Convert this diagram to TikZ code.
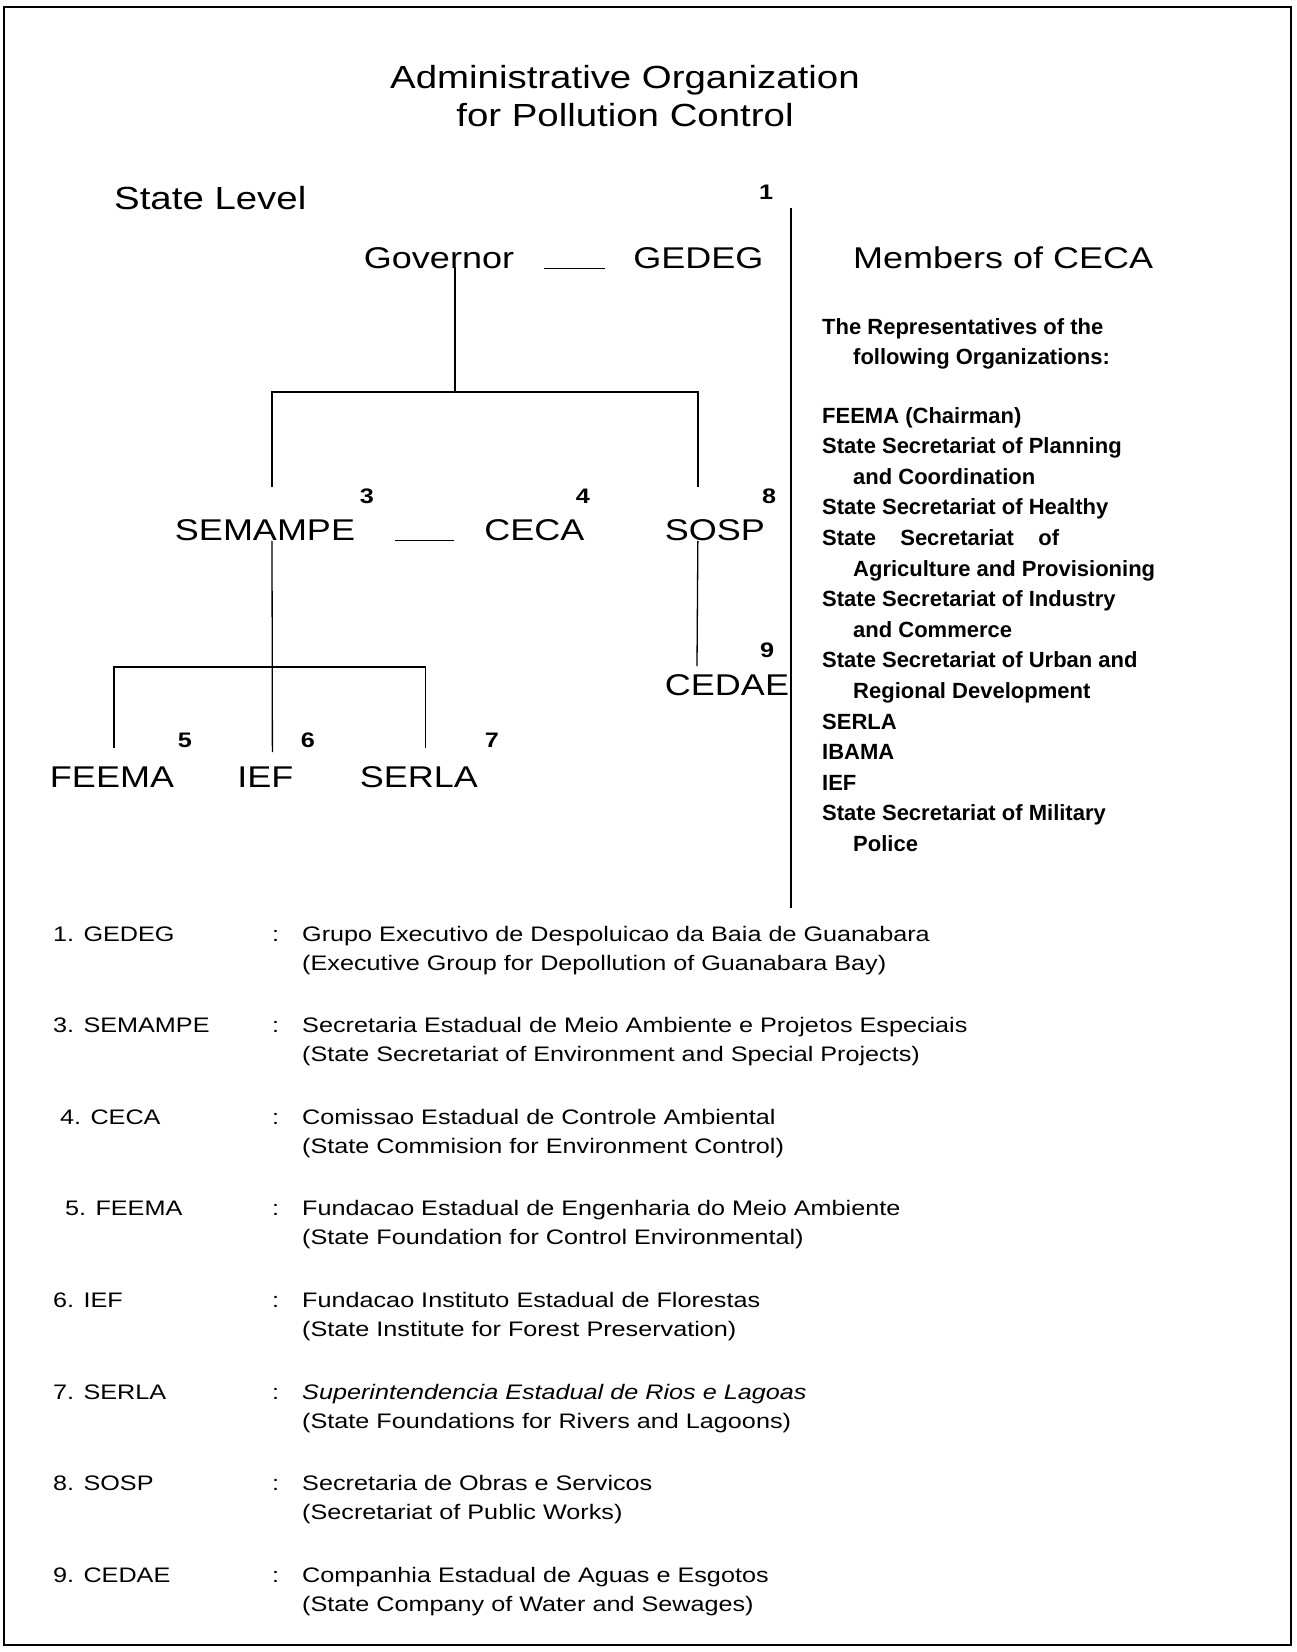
\documentclass[tikz,border=0pt]{standalone}
\usepackage{fontspec}
\setmainfont{Liberation Sans}
\newfontfamily\widesans[FakeStretch=1.2]{Liberation Sans}
\usetikzlibrary{positioning}

\begin{document}
\begin{tikzpicture}[x=1pt, y=-1pt, every node/.style={inner sep=0pt},
  heading/.style={font=\widesans\fontsize{32}{38}\selectfont},
  org/.style={font=\widesans\fontsize{30}{36}\selectfont, text height=21.5pt, text depth=0pt},
  num/.style={font=\widesans\bfseries\fontsize{21}{24}\selectfont, text height=15pt, text depth=0pt},
  legend/.style={font=\widesans\fontsize{21}{28}\selectfont, anchor=base west},
  member/.style={font=\bfseries\fontsize{22}{30.6}\selectfont, align=left, anchor=north west},
  link/.style={line width=1.3pt}]

% Page and frame
\useasboundingbox (0,0) rectangle (1296,1652);
\draw[line width=2.5pt] (4,7) rectangle (1291,1645);

% Title
\node[heading, anchor=base] (title1) at (625,88.5) {Administrative Organization};
\node[heading, anchor=base] (title2) at (625,126.5) {for Pollution Control};
\node[heading, anchor=base west] (level) at (114,209) {State Level};

% Main nodes
\node[org] (gov) at (439,258) {Governor};
\node[org] (gedeg) [right=119pt of gov] {GEDEG};
\node[org] (semampe) at (265,530) {SEMAMPE};
\node[org] (ceca) [right=129pt of semampe] {CECA};
\node[org] (sosp) [right=80pt of ceca] {SOSP};
\node[org] (cedae) at (727,685) {CEDAE};
\node[org] (feema) at (112,777) {FEEMA};
\node[org] (ief) [right=63pt of feema] {IEF};
\node[org] (serla) [right=66pt of ief] {SERLA};

% Footnote numbers
\node[num] (n1) at (766,192) {1};
\node[num] (n3) at (367,496) {3};
\node[num] (n4) at (583,496) {4};
\node[num] (n8) at (769,496) {8};
\node[num] (n9) at (767,650) {9};
\node[num] (n5) at (185,740) {5};
\node[num] (n6) at (308,740) {6};
\node[num] (n7) at (492,740) {7};

% Connecting lines
\coordinate (govdrop) at (455,392);
\coordinate (semdrop) at (272,667);
\draw[link, shorten <=30pt, shorten >=28pt] (gov.base east) -- (gedeg.base west);
\draw[link, shorten <=40pt, shorten >=30pt] (semampe.base east) -- (ceca.base west);
\draw[link] ([xshift=16pt,yshift=2pt]gov.south) -- (govdrop);
\draw[link] ([xshift=7pt,yshift=32pt]semampe.north) |- (govdrop) -| ([xshift=-17pt,yshift=32pt]sosp.north);
\draw[link] ([xshift=7pt]semampe.south) -- ([xshift=7pt,yshift=14pt]ief.north);
\draw[link] ([xshift=2pt,yshift=18pt]feema.north) |- (semdrop) -| ([xshift=7pt,yshift=18pt]serla.north);
\draw[link] ([xshift=-17pt]sosp.south) -- ([xshift=-30pt,yshift=8pt]cedae.north);

% Separator
\coordinate (septop) at (791,208);
\coordinate (sepbot) at (791,908);
\draw[link] (septop) -- (sepbot);

% Members of CECA
\node[org, anchor=west] (members) at (853,258) {Members of CECA};
\node[member] (reps) at (822,318) {The Representatives of the\\\hspace*{31pt}following Organizations:};
\node[member] (cecalist) at (822,407) {FEEMA (Chairman)\\
State Secretariat of Planning\\
\hspace*{31pt}and Coordination\\
State Secretariat of Healthy\\
\makebox[237pt][s]{State Secretariat of}\\
\hspace*{31pt}Agriculture and Provisioning\\
State Secretariat of Industry\\
\hspace*{31pt}and Commerce\\
State Secretariat of Urban and\\
\hspace*{31pt}Regional Development\\
SERLA\\
IBAMA\\
IEF\\
State Secretariat of Military\\
\hspace*{31pt}Police};

% Legend
\node[legend] (key1) at (53,941) {1. GEDEG};
\node[legend] (col1) at (272,941) {:};
\node[legend] (def1) at (302,941) {Grupo Executivo de Despoluicao da Baia de Guanabara};
\node[legend] (tr1) at (302,970) {(Executive Group for Depollution of Guanabara Bay)};

\node[legend] (key3) at (53,1032.6) {3. SEMAMPE};
\node[legend] (col3) at (272,1032.6) {:};
\node[legend] (def3) at (302,1032.6) {Secretaria Estadual de Meio Ambiente e Projetos Especiais};
\node[legend] (tr3) at (302,1061.6) {(State Secretariat of Environment and Special Projects)};

\node[legend] (key4) at (60,1124.2) {4. CECA};
\node[legend] (col4) at (272,1124.2) {:};
\node[legend] (def4) at (302,1124.2) {Comissao Estadual de Controle Ambiental};
\node[legend] (tr4) at (302,1153.2) {(State Commision for Environment Control)};

\node[legend] (key5) at (65,1215.8) {5. FEEMA};
\node[legend] (col5) at (272,1215.8) {:};
\node[legend] (def5) at (302,1215.8) {Fundacao Estadual de Engenharia do Meio Ambiente};
\node[legend] (tr5) at (302,1244.8) {(State Foundation for Control Environmental)};

\node[legend] (key6) at (53,1307.4) {6. IEF};
\node[legend] (col6) at (272,1307.4) {:};
\node[legend] (def6) at (302,1307.4) {Fundacao Instituto Estadual de Florestas};
\node[legend] (tr6) at (302,1336.4) {(State Institute for Forest Preservation)};

\node[legend] (key7) at (53,1399) {7. SERLA};
\node[legend] (col7) at (272,1399) {:};
\node[legend] (def7) at (302,1399) {\itshape Superintendencia Estadual de Rios e Lagoas};
\node[legend] (tr7) at (302,1428) {(State Foundations for Rivers and Lagoons)};

\node[legend] (key8) at (53,1490.6) {8. SOSP};
\node[legend] (col8) at (272,1490.6) {:};
\node[legend] (def8) at (302,1490.6) {Secretaria de Obras e Servicos};
\node[legend] (tr8) at (302,1519.6) {(Secretariat of Public Works)};

\node[legend] (key9) at (53,1582.2) {9. CEDAE};
\node[legend] (col9) at (272,1582.2) {:};
\node[legend] (def9) at (302,1582.2) {Companhia Estadual de Aguas e Esgotos};
\node[legend] (tr9) at (302,1611.2) {(State Company of Water and Sewages)};

\end{tikzpicture}
\end{document}
